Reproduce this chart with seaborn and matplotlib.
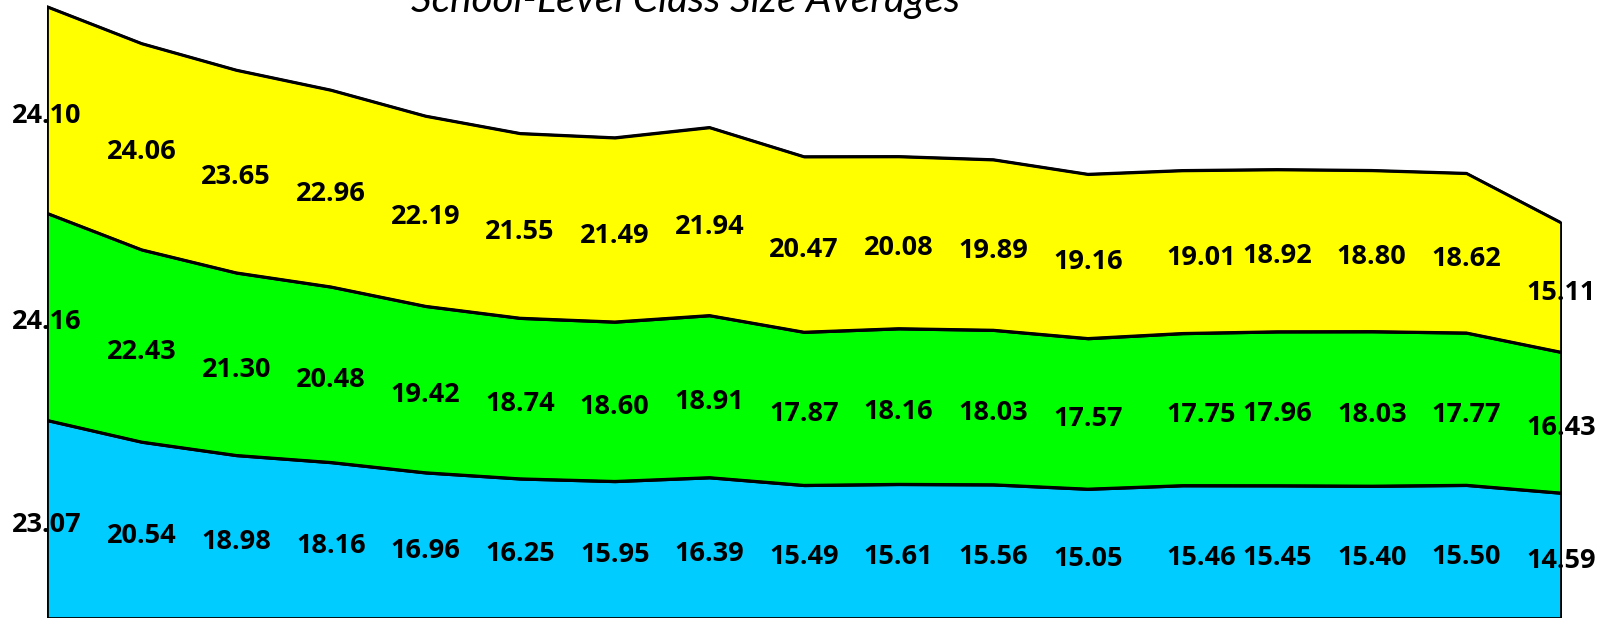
import numpy as np
import pandas as pd
import matplotlib
matplotlib.use("Agg")
import matplotlib.pyplot as plt
import seaborn as sns

title = "School-Level Class Size Averages"
points = list(range(17))
blue_vals = [23.07, 20.54, 18.98, 18.16, 16.96, 16.25, 15.95, 16.39, 15.49,
             15.61, 15.56, 15.05, 15.46, 15.45, 15.40, 15.50, 14.59]
green_vals = [24.16, 22.43, 21.30, 20.48, 19.42, 18.74, 18.60, 18.91, 17.87,
              18.16, 18.03, 17.57, 17.75, 17.96, 18.03, 17.77, 16.43]
yellow_vals = [24.10, 24.06, 23.65, 22.96, 22.19, 21.55, 21.49, 21.94, 20.47,
               20.08, 19.89, 19.16, 19.01, 18.92, 18.80, 18.62, 15.11]

sns.set_theme(style="white")
plt.rcParams['font.family'] = ['Lato', 'DejaVu Sans']

W, H = 1610, 618
fig = plt.figure(figsize=(W / 100, H / 100), dpi=100)
ax = fig.add_axes([47 / W, 0, (1561 - 47) / W, 1])

x = np.array(points, dtype=float)
b = np.array(blue_vals)
g = np.array(green_vals)
yv = np.array(yellow_vals)
series = [(b, "#00CCFF"), (g, "#00FF00"), (yv, "#FFFF00")]

base = np.zeros_like(x)
tops = []
for vals, col in series:
    top = base + vals
    ax.fill_between(x, base, top, facecolor=col, edgecolor="black",
                    linewidth=2, zorder=2)
    tops.append((base.copy(), top.copy(), vals))
    base = top

# boundary lines through seaborn
for lo, hi, vals in tops:
    df = pd.DataFrame({"x": x, "y": hi})
    sns.lineplot(data=df, x="x", y="y", ax=ax, color="black", linewidth=2,
                 zorder=3, legend=False)

# labels
for lo, hi, vals in tops:
    for i in range(len(x)):
        dx = 13.5 if i == 12 else 0.0
        ax.annotate(f"{vals[i]:.2f}", xy=(x[i], (lo[i] + hi[i]) / 2),
                    xytext=(dx, -2), textcoords="offset points",
                    ha="center", va="center_baseline", fontsize=19.5,
                    fontweight="bold", color="black",
                    family=["Open Sans", "DejaVu Sans"],
                    zorder=5, annotation_clip=False)

ax.set_xlim(0, 16)
ax.set_ylim(0, 72.1)
ax.axis("off")

fig.text(686 / W, 1 - 12 / H, title, ha="center", va="baseline",
         fontsize=29.2, fontstyle="italic", color="black")

fig.savefig("out.png", dpi=100)
